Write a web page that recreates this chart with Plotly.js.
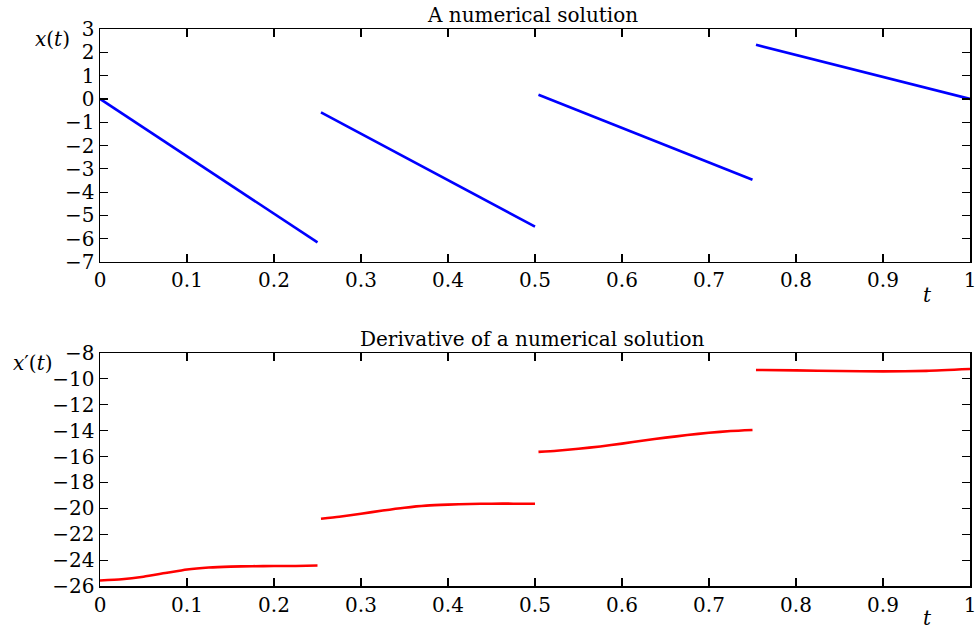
<!DOCTYPE html>
<html>
<head>
<meta charset="utf-8">
<script src="https://cdn.plot.ly/plotly-3.0.1.min.js"></script>
<style>html,body{margin:0;padding:0;background:#fff;}#chart{width:978px;height:629px;}</style>
</head>
<body>
<div id="chart"></div>
<script>
// Solution x(t), four pieces
const tSol1 = [0, 0.25];
const xSol1 = [0, -6.16];
const tSol2 = [0.254, 0.5];
const xSol2 = [-0.575, -5.48];
const tSol3 = [0.504, 0.75];
const xSol3 = [0.18, -3.47];
const tSol4 = [0.754, 1.0];
const xSol4 = [2.32, 0.0];

// Derivative x'(t), four pieces
const tDer1 = [0, 0.025, 0.05, 0.075, 0.1, 0.125, 0.15, 0.175, 0.2, 0.225, 0.25];
const dDer1 = [-25.57, -25.48, -25.28, -25.0, -24.72, -24.57, -24.5, -24.47, -24.46, -24.45, -24.42];
const tDer2 = [0.254, 0.275, 0.3, 0.325, 0.35, 0.375, 0.4, 0.425, 0.45, 0.475, 0.5];
const dDer2 = [-20.81, -20.65, -20.42, -20.17, -19.95, -19.79, -19.71, -19.66, -19.64, -19.64, -19.65];
const tDer3 = [0.504, 0.525, 0.55, 0.575, 0.6, 0.625, 0.65, 0.675, 0.7, 0.725, 0.75];
const dDer3 = [-15.64, -15.55, -15.4, -15.22, -15.0, -14.76, -14.54, -14.34, -14.16, -14.03, -13.95];
const tDer4 = [0.754, 0.8, 0.85, 0.9, 0.95, 1.0];
const dDer4 = [-9.31, -9.34, -9.39, -9.42, -9.38, -9.24];

const blue = '#0000ff', red = '#ff0000';
const solPieces = [[tSol1, xSol1], [tSol2, xSol2], [tSol3, xSol3], [tSol4, xSol4]];
const derPieces = [[tDer1, dDer1], [tDer2, dDer2], [tDer3, dDer3], [tDer4, dDer4]];

const traces = [];
solPieces.forEach(p => traces.push({x: p[0], y: p[1], xaxis: 'x', yaxis: 'y', mode: 'lines',
  line: {color: blue, width: 2.6}, showlegend: false, hoverinfo: 'skip'}));
derPieces.forEach(p => traces.push({x: p[0], y: p[1], xaxis: 'x2', yaxis: 'y2', mode: 'lines',
  line: {color: red, width: 2.6, shape: 'spline', smoothing: 0.6}, showlegend: false, hoverinfo: 'skip'}));

const font = {family: '"DejaVu Serif", "Liberation Serif", serif', size: 20, color: '#000'};
const axCommon = {
  showline: true, linecolor: '#000', linewidth: 1.5, mirror: 'ticks',
  ticks: 'inside', ticklen: 8, tickwidth: 1.2, tickcolor: '#000',
  showgrid: false, zeroline: false, tickfont: font
};
const xTicks = [0, 0.1, 0.2, 0.3, 0.4, 0.5, 0.6, 0.7, 0.8, 0.9, 1];
const xTickText = ['0', '0.1', '0.2', '0.3', '0.4', '0.5', '0.6', '0.7', '0.8', '0.9', '1'];

const layout = {
  width: 978, height: 629,
  margin: {l: 100, r: 8, t: 29, b: 43},
  paper_bgcolor: '#fff', plot_bgcolor: '#fff',
  font: font,
  xaxis: Object.assign({}, axCommon, {domain: [0, 1], range: [0, 1], anchor: 'y',
    tickvals: xTicks, ticktext: xTickText}),
  yaxis: Object.assign({}, axCommon, {domain: [0.5817, 1], range: [-7, 3], dtick: 1, tick0: 0, anchor: 'x'}),
  xaxis2: Object.assign({}, axCommon, {domain: [0, 1], range: [0, 1], anchor: 'y2',
    tickvals: xTicks, ticktext: xTickText}),
  yaxis2: Object.assign({}, axCommon, {domain: [0, 0.4183], range: [-26, -8], dtick: 2, tick0: 0, anchor: 'x2'}),
  annotations: [
    {text: 'A numerical solution', xref: 'paper', yref: 'paper', x: 0.4977, y: 1, yshift: 0,
      xanchor: 'center', yanchor: 'bottom', showarrow: false, font: font},
    {text: 'Derivative of a numerical solution', xref: 'paper', yref: 'paper', x: 0.4977, y: 0.4183, yshift: 0,
      xanchor: 'center', yanchor: 'bottom', showarrow: false, font: font},
    {text: '<i>x</i>(<i>t</i>)', xref: 'paper', yref: 'paper', x: 0, xshift: -28, y: 1, yshift: -10,
      xanchor: 'right', yanchor: 'middle', showarrow: false, font: font},
    {text: '<i>x</i>′(<i>t</i>)', xref: 'paper', yref: 'paper', x: 0, xshift: -46, y: 0.4183, yshift: -10,
      xanchor: 'right', yanchor: 'middle', showarrow: false, font: font},
    {text: '<i>t</i>', xref: 'paper', yref: 'paper', x: 0.9506, y: 0.5817, yshift: -33,
      xanchor: 'center', yanchor: 'middle', showarrow: false, font: font},
    {text: '<i>t</i>', xref: 'paper', yref: 'paper', x: 0.9506, y: 0, yshift: -32,
      xanchor: 'center', yanchor: 'middle', showarrow: false, font: font}
  ]
};

Plotly.newPlot('chart', traces, layout, {displayModeBar: false, staticPlot: true});
</script>
</body>
</html>
